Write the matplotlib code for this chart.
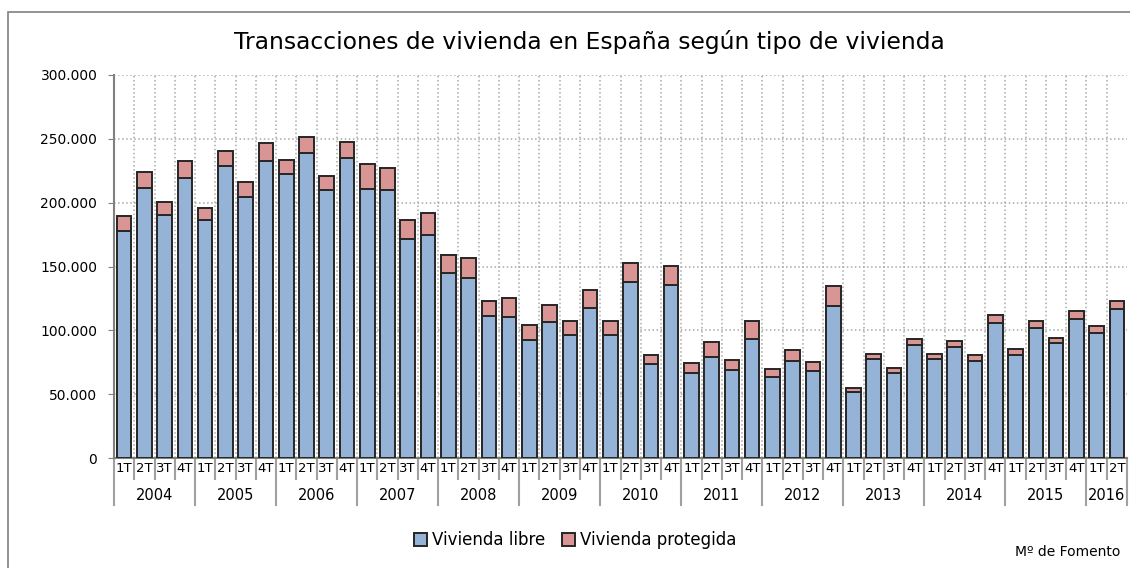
import numpy as np
import matplotlib.pyplot as plt
from matplotlib.patches import Rectangle

# Data (quarters 2004 1T .. 2016 2T)
years = ['2004', '2005', '2006', '2007', '2008', '2009', '2010',
         '2011', '2012', '2013', '2014', '2015', '2016']
quarters = ['1T', '2T', '3T', '4T'] * 12 + ['1T', '2T']

libre = [177700, 211700, 190300, 219000,
         186100, 228400, 204600, 232800,
         222100, 239100, 209600, 234900,
         210900, 209600, 171700, 174300,
         144900, 141200, 110900, 110400,
         92700, 106200, 96600, 117200,
         96600, 137500, 73300, 135700,
         66600, 79300, 68600, 93200,
         63400, 76200, 67900, 118700,
         51400, 77800, 66800, 88700,
         77200, 86600, 75900, 106000,
         80600, 101800, 90300, 109100,
         98100, 116900]

total = [189700, 223700, 200700, 232300,
         196000, 240600, 215800, 246600,
         233100, 251100, 220800, 247400,
         230500, 226800, 186400, 191600,
         158700, 156900, 122700, 125300,
         104400, 119800, 107300, 131300,
         107000, 152700, 80400, 150300,
         74100, 90800, 76500, 107000,
         69400, 84300, 75400, 134700,
         55100, 81400, 70500, 93200,
         81400, 91600, 80400, 111700,
         85300, 107000, 94000, 115100,
         103600, 123200]

protegida = [t - l for t, l in zip(total, libre)]

plt.rcParams['font.family'] = ['DejaVu Sans']

fig = plt.figure(figsize=(11.3, 5.68), dpi=100)

# outer chart border (runs off the right and bottom edges in the reference)
fig.patches.append(Rectangle((8 / 1130, -0.05), 1.2, 1 - 12 / 568 + 0.05,
                             transform=fig.transFigure, fill=False,
                             edgecolor='#808080', linewidth=1.2))

ax = fig.add_axes([114 / 1130, 1 - 458 / 568, 1013 / 1130, 383 / 568])

x = np.arange(len(libre))
edge = '#262626'
b1 = ax.bar(x, libre, width=0.72, color='#95B3D7', edgecolor=edge,
            linewidth=1.4, zorder=3, label='Vivienda libre')
b2 = ax.bar(x, protegida, bottom=libre, width=0.72, color='#D99594',
            edgecolor=edge, linewidth=1.4, zorder=3, label='Vivienda protegida')

ax.set_xlim(-0.5, len(libre) - 0.5)
ax.set_ylim(0, 300000)
ax.set_yticks(np.arange(0, 300001, 50000))
ax.set_yticklabels(['0' if v == 0 else f'{v:,}'.replace(',', '.')
                    for v in range(0, 300001, 50000)])
ax.tick_params(axis='y', length=4, color='#808080', labelsize=10, pad=8)
ax.set_xticks([])

# dotted grid
for v in range(50000, 300001, 50000):
    ax.axhline(v, color='#a8a8a8', linestyle=':', linewidth=1.1, zorder=1)
for i in range(1, len(libre)):
    ax.axvline(i - 0.5, color='#a8a8a8', linestyle=':', linewidth=1.1, zorder=1)

for s in ['top', 'right']:
    ax.spines[s].set_visible(False)
for s in ['left', 'bottom']:
    ax.spines[s].set_color('#808080')
    ax.spines[s].set_linewidth(1.5)

# category axis: quarter and year labels with separators
tr = ax.get_xaxis_transform()
q_low = -21 / 383
y_low = -47 / 383
for i in range(len(libre) + 1):
    is_year = (i % 4 == 0) or i == len(libre)
    ax.plot([i - 0.5, i - 0.5], [0, y_low if is_year else q_low],
            transform=tr, color='#a0a0a0', linewidth=1.5, clip_on=False)
for i, q in enumerate(quarters):
    ax.text(i, -10 / 383, q, transform=tr, ha='center', va='center',
            fontsize=9.5)
for k, yr in enumerate(years):
    start = k * 4
    end = min(start + 4, len(libre))
    ax.text((start + end - 1) / 2, -37 / 383, yr, transform=tr,
            ha='center', va='center', fontsize=10.5)

fig.text(589 / 1130, 1 - 42 / 568,
         'Transacciones de vivienda en España según tipo de vivienda',
         ha='center', va='center', fontsize=16.8)

fig.legend(handles=[b1, b2], loc='center', bbox_to_anchor=(575 / 1130, 1 - 540 / 568),
           ncol=2, frameon=False, fontsize=12, handlelength=0.8, handleheight=0.8,
           handletextpad=0.3, columnspacing=1.0)

fig.text(1120 / 1130, 1 - 552 / 568, 'Mº de Fomento', ha='right', va='center',
         fontsize=10)

fig.savefig('out.png', dpi=100)
